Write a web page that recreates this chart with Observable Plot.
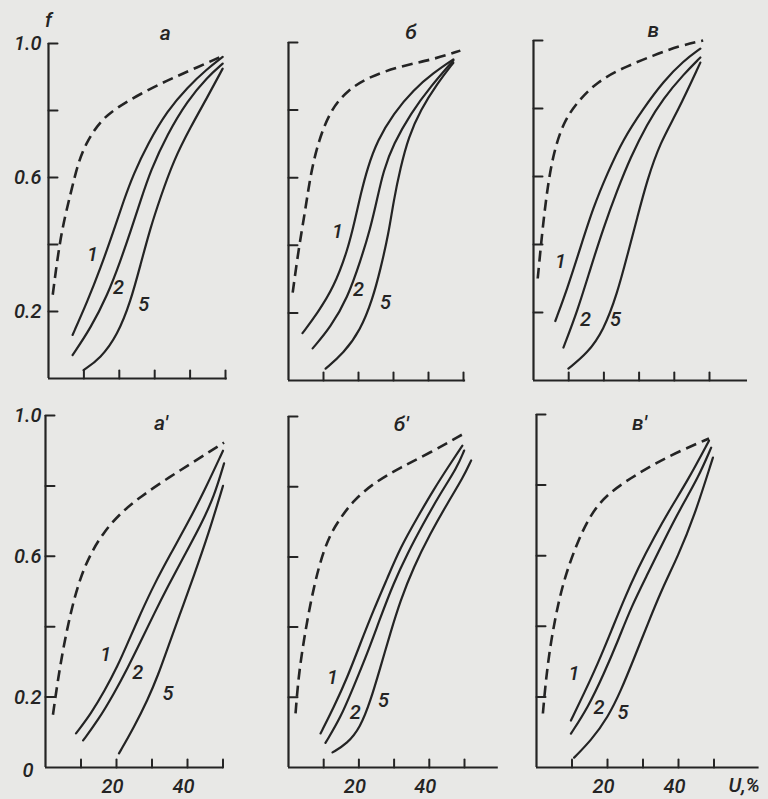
<!DOCTYPE html>
<html><head><meta charset="utf-8">
<script src="https://cdn.jsdelivr.net/npm/d3@7"></script>
<script src="https://cdn.jsdelivr.net/npm/@observablehq/plot@0.6"></script>
<style>
html,body{margin:0;padding:0;background:#e8e8e6;}
#chart{position:relative;width:768px;height:799px;overflow:hidden;background:#e8e8e6;}
#chart svg{position:absolute;overflow:visible;}
</style></head><body><div id="chart"></div>
<script>
// ---- data (x: U, %; y: f) ----
const xTickValues = [10, 20, 30, 40, 50];
const yTickValues = [0.2, 0.4, 0.6, 0.8, 1.0];
const xTickLabels = [["20", 20], ["40", 40]];
const yTickLabels = [["1.0", 1.0], ["0.6", 0.6], ["0.2", 0.2]];
const panelTitles = ["а", "б", "в", "а′", "б′", "в′"];
const titlePos = [[33, 1.03], [35, 1.03], [34, 1.03], [32.5, 0.978], [32, 0.978], [29, 0.975]];
const axisEnds = [50.5, 50.6, 60.8, 50.2, 59.6, 62.7];

// panel а
const a_dash = [[1.2,0.25],[3.4,0.43],[6.2,0.55],[8.5,0.65],[11,0.71],[14.7,0.77],[19.5,0.81],[26,0.85],[33.6,0.89],[40.1,0.92],[48.6,0.96]];
const a_1 = [[6.8,0.13],[11,0.23],[14.7,0.33],[18.4,0.44],[21.2,0.53],[24,0.61],[28,0.7],[33.6,0.8],[39.3,0.87],[44.9,0.925],[49.2,0.96]];
const a_2 = [[6.8,0.07],[11.9,0.15],[16.7,0.25],[20.3,0.35],[23.2,0.44],[26,0.53],[28.8,0.62],[33.6,0.73],[39.3,0.83],[44.9,0.9],[49.2,0.94]];
const a_5 = [[9.9,0.025],[14.7,0.06],[19.5,0.13],[23.2,0.23],[26,0.34],[28.8,0.45],[31.6,0.54],[35.3,0.65],[40.1,0.75],[44.9,0.84],[49.2,0.925]];
const a_labels = [["1",12.4,0.37],["2",19.8,0.27],["5",26.9,0.22]];

// panel б
const b_dash = [[1.2,0.26],[2.9,0.39],[4.9,0.51],[6.3,0.61],[8.6,0.71],[12,0.8],[16.9,0.86],[23.4,0.9],[32,0.93],[41.4,0.95],[49.1,0.976]];
const b_1 = [[4,0.14],[8.3,0.2],[12.9,0.275],[16.9,0.385],[19.1,0.48],[20.6,0.55],[22.6,0.63],[25.4,0.71],[30,0.79],[35.7,0.86],[41.4,0.91],[47.1,0.95]];
const b_2 = [[6.9,0.095],[12,0.157],[16.9,0.245],[20.6,0.355],[23.4,0.45],[25.4,0.54],[27.1,0.62],[30,0.7],[34.9,0.79],[40.6,0.87],[47.1,0.947]];
const b_5 = [[10.6,0.035],[15.7,0.08],[20.6,0.15],[24,0.24],[26.3,0.33],[28.6,0.435],[30,0.53],[32,0.63],[34.3,0.72],[37.7,0.8],[42.6,0.88],[47.1,0.94]];
const b_labels = [["1",14,0.44],["2",20,0.27],["5",27.7,0.23]];

// panel в
const v_dash = [[1.2,0.3],[2.6,0.45],[4,0.57],[5.7,0.67],[8.5,0.76],[12.5,0.82],[18.2,0.88],[25.5,0.92],[34,0.956],[41.7,0.985],[48.2,1.0]];
const v_1 = [[6.2,0.175],[9.6,0.27],[13.3,0.39],[17,0.51],[21,0.61],[25.5,0.71],[31.2,0.8],[36.9,0.88],[42.6,0.94],[47.4,0.976]];
const v_2 = [[8.5,0.097],[12.5,0.205],[16.2,0.33],[19.9,0.45],[23.8,0.56],[27.5,0.655],[32.3,0.755],[36.9,0.83],[42.6,0.9],[47.4,0.95]];
const v_5 = [[9.9,0.035],[15.3,0.08],[19.9,0.147],[23.8,0.256],[26.7,0.37],[29.5,0.48],[32.3,0.59],[36,0.7],[40.9,0.79],[47.4,0.935]];
const v_labels = [["1",7.7,0.35],["2",14.8,0.18],["5",23.3,0.18]];

// panel а′
const a2_dash = [[2.1,0.15],[3.5,0.25],[5.2,0.35],[7.3,0.45],[9.8,0.54],[12.8,0.61],[16.5,0.67],[21.3,0.725],[26.9,0.77],[33.4,0.815],[40.1,0.858],[46.6,0.9],[50.3,0.923]];
const a2_1 = [[8.6,0.097],[12.8,0.153],[16.5,0.215],[20.4,0.29],[23.2,0.355],[26.9,0.44],[30.6,0.52],[35.4,0.61],[40.1,0.695],[44.7,0.785],[50,0.9]];
const a2_2 = [[10.6,0.077],[14.8,0.134],[19.3,0.21],[23.2,0.284],[26.9,0.36],[30.6,0.437],[34.5,0.515],[39,0.6],[43.8,0.69],[47.5,0.77],[50.3,0.864]];
const a2_5 = [[20.7,0.04],[24.9,0.114],[28.9,0.195],[31.7,0.262],[34.5,0.342],[38.2,0.445],[41.8,0.545],[45.8,0.66],[50,0.8]];
const a2_labels = [["1",17,0.32],["2",26,0.27],["5",34.5,0.21]];

// panel б′
const b2_dash = [[2,0.154],[2.8,0.256],[4.3,0.36],[6.2,0.467],[8.5,0.57],[11.3,0.655],[14.8,0.712],[18.4,0.76],[24.1,0.81],[31.8,0.855],[40.3,0.897],[49.6,0.95]];
const b2_1 = [[9.1,0.097],[12.8,0.17],[16.7,0.256],[20.4,0.353],[24.1,0.447],[28.1,0.54],[31.8,0.627],[36.6,0.712],[41.1,0.79],[46,0.866],[49.4,0.917]];
const b2_2 = [[10.5,0.07],[14.8,0.142],[18.4,0.228],[22.4,0.325],[26.1,0.427],[29.8,0.524],[33.8,0.61],[38.3,0.695],[43.1,0.78],[47.9,0.855],[49.9,0.903]];
const b2_5 = [[12.5,0.043],[16.7,0.068],[20.4,0.114],[23.3,0.19],[26.1,0.285],[28.9,0.382],[31.8,0.476],[35.5,0.57],[40.3,0.667],[45.1,0.752],[49.6,0.826],[51.9,0.875]];
const b2_labels = [["1",12.5,0.256],["2",19,0.157],["5",27,0.19]];

// panel в′
const v2_dash = [[1.8,0.153],[2.7,0.255],[4.1,0.36],[6.1,0.465],[8.3,0.55],[11.7,0.643],[15.4,0.72],[20.1,0.776],[26.6,0.82],[33.1,0.86],[40.7,0.898],[48.6,0.932]];
const v2_1 = [[9.7,0.133],[13.4,0.21],[17.3,0.295],[21,0.385],[24.6,0.475],[28.6,0.565],[33.1,0.652],[37.9,0.737],[42.7,0.815],[48.6,0.926]];
const v2_2 = [[9.7,0.096],[14.5,0.17],[19,0.266],[23,0.36],[26.6,0.453],[31.4,0.55],[35.9,0.643],[40.7,0.737],[45.5,0.82],[49.2,0.906]];
const v2_5 = [[10.6,0.028],[15.4,0.077],[20.1,0.142],[23.8,0.218],[27.5,0.31],[31.4,0.408],[35.1,0.5],[39.9,0.6],[44.4,0.71],[49.7,0.878]];
const v2_labels = [["1",10.6,0.267],["2",17.6,0.17],["5",24.4,0.156]];

// ---- layout ----
const ink = "#242424";
const font = "Roboto, 'DejaVu Sans', sans-serif";
const tickShape = {draw(context, l) { context.moveTo(0, 0); context.lineTo(0, -l); }};

const panels = [
  {series: {dash: a_dash, c1: a_1, c2: a_2, c5: a_5}, labels: a_labels, box: {x0: 48, x50: 225, y0: 378, y1: 43}, row: 0, col: 0},
  {series: {dash: b_dash, c1: b_1, c2: b_2, c5: b_5}, labels: b_labels, box: {x0: 288, x50: 463, y0: 380, y1: 42}, row: 0, col: 1},
  {series: {dash: v_dash, c1: v_1, c2: v_2, c5: v_5}, labels: v_labels, box: {x0: 533, x50: 709, y0: 380, y1: 40}, row: 0, col: 2},
  {series: {dash: a2_dash, c1: a2_1, c2: a2_2, c5: a2_5}, labels: a2_labels, box: {x0: 44.5, x50: 222, y0: 767, y1: 415}, row: 1, col: 0},
  {series: {dash: b2_dash, c1: b2_1, c2: b2_2, c5: b2_5}, labels: b2_labels, box: {x0: 288, x50: 464, y0: 767, y1: 416}, row: 1, col: 1},
  {series: {dash: v2_dash, c1: v2_1, c2: v2_2, c5: v2_5}, labels: v2_labels, box: {x0: 535.5, x50: 713, y0: 767, y1: 414}, row: 1, col: 2}
];

const chart = document.getElementById("chart");
const txt = {fontFamily: font, fontStyle: "italic", fontWeight: 500, fill: ink};

panels.forEach((p, i) => {
  const ML = 45, MR = 55, MT = 40, MB = 38;
  const w = p.box.x50 - p.box.x0, h = p.box.y0 - p.box.y1;
  const rows = [];
  for (const [key, pts] of Object.entries(p.series)) for (const [x, y] of pts) rows.push({key, x, y});
  const labelRows = p.labels.map(([t, x, y]) => ({t, x, y}));
  const marks = [
    Plot.ruleX([0], {y1: 0, y2: 1, stroke: ink, strokeWidth: 2.2}),
    Plot.ruleY([0], {x1: 0, x2: axisEnds[i], stroke: ink, strokeWidth: 2.2}),
    Plot.vector(xTickValues, {x: d => d, y: () => 0, length: 8, rotate: 0, anchor: "start", shape: tickShape, stroke: ink, strokeWidth: 2}),
    Plot.vector(yTickValues, {x: () => 0, y: d => d, length: 9, rotate: 90, anchor: "start", shape: tickShape, stroke: ink, strokeWidth: 2}),
    Plot.line(rows.filter(r => r.key !== "dash"), {x: "x", y: "y", z: "key", curve: "basis", stroke: ink, strokeWidth: 2.2}),
    Plot.line(rows.filter(r => r.key === "dash"), {x: "x", y: "y", curve: "basis", stroke: ink, strokeWidth: 2.6, strokeDasharray: "11,6", strokeLinecap: "butt"}),
    Plot.text(labelRows, {x: "x", y: "y", text: "t", fontSize: 20, ...txt}),
    Plot.text([panelTitles[i]], {x: () => titlePos[i][0], y: () => titlePos[i][1], text: d => d, fontSize: 21, ...txt})
  ];
  if (p.col === 0) {
    marks.push(Plot.text(yTickLabels, {x: () => 0, y: d => d[1], text: d => d[0], textAnchor: "end", dx: p.row === 0 ? -7 : -4, fontSize: 20, ...txt}));
    if (p.row === 0) marks.push(Plot.text(["f"], {x: () => 0, y: () => 1, text: d => d, dy: -23, fontSize: 20, ...txt}));
    else marks.push(Plot.text(["0"], {x: () => 0, y: () => 0, text: d => d, textAnchor: "end", dx: -12, dy: 3, fontSize: 20, ...txt}));
  }
  if (p.row === 1) {
    marks.push(Plot.text(xTickLabels, {x: d => d[1], y: () => 0, text: d => d[0], dx: -4, dy: 19, fontSize: 20, ...txt}));
    if (p.col === 2) marks.push(Plot.text(["U,%"], {x: () => 58.5, y: () => 0, text: d => d, dy: 18, fontSize: 20, ...txt}));
  }
  const svg = Plot.plot({
    width: ML + w + MR, height: MT + h + MB,
    marginLeft: ML, marginRight: MR, marginTop: MT, marginBottom: MB,
    x: {domain: [0, 50], axis: null},
    y: {domain: [0, 1], axis: null},
    style: {background: "transparent", overflow: "visible"},
    marks
  });
  svg.style.left = (p.box.x0 - ML) + "px";
  svg.style.top = (p.box.y1 - MT) + "px";
  svg.style.maxWidth = "none";
  chart.appendChild(svg);
});
</script></body></html>
